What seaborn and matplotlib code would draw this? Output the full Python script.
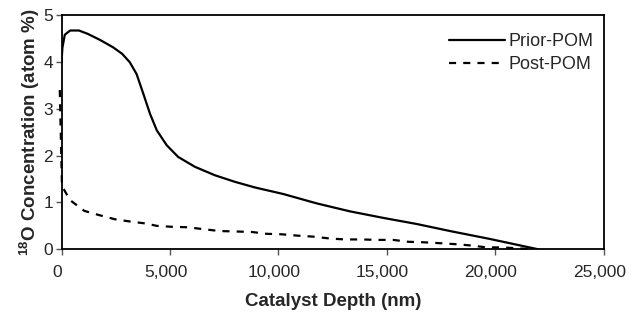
import matplotlib
matplotlib.use("Agg")
import matplotlib.pyplot as plt
import matplotlib.transforms as mtransforms
import seaborn as sns
import pandas as pd
from matplotlib.ticker import FuncFormatter

prior_depth = [0, 40, 150, 400, 800, 1200, 1770, 2380, 2800, 3150, 3460, 3770, 4080,
               4390, 4850, 5380, 6150, 7070, 7990, 8910, 10220, 11760, 13290, 14830,
               16370, 17900, 19750, 21970]
prior_conc = [4.0, 4.3, 4.58, 4.67, 4.67, 4.6, 4.47, 4.31, 4.17, 3.99, 3.74, 3.32, 2.89,
              2.54, 2.22, 1.97, 1.76, 1.58, 1.44, 1.32, 1.18, 0.98, 0.81, 0.67,
              0.54, 0.39, 0.22, 0.0]

post_depth = [-80, 20, 390, 1050, 1730, 2470, 3200, 3890, 4390, 5080, 5810, 6530, 7270,
              8000, 8760, 9460, 10150, 10910, 11600, 12370, 13060, 13830, 14530, 15290,
              15980, 16670, 17440, 18130, 18900, 19590, 20290, 21050, 21740]
post_conc = [3.4, 1.35, 1.05, 0.82, 0.73, 0.64, 0.59, 0.55, 0.5, 0.48, 0.47, 0.43, 0.39,
             0.38, 0.37, 0.33, 0.32, 0.29, 0.27, 0.23, 0.21, 0.21, 0.2, 0.2,
             0.16, 0.15, 0.13, 0.11, 0.08, 0.04, 0.04, 0.02, 0.0]

series_names = ["Prior-POM", "Post-POM"]
x_ticks = [0, 5000, 10000, 15000, 20000, 25000]
y_ticks = [0, 1, 2, 3, 4, 5]

sns.set_theme(style="ticks")
plt.rcParams["font.family"] = ["Liberation Sans", "DejaVu Sans"]
plt.rcParams["mathtext.fontset"] = "custom"
plt.rcParams["mathtext.bf"] = "Liberation Sans:bold"
plt.rcParams["mathtext.rm"] = "Liberation Sans:bold"

df = pd.concat([
    pd.DataFrame({"depth": prior_depth, "conc": prior_conc, "series": series_names[0]}),
    pd.DataFrame({"depth": post_depth, "conc": post_conc, "series": series_names[1]}),
], ignore_index=True)

fig = plt.figure(figsize=(6.35, 3.2), dpi=100)
ax = fig.add_axes([0.0969, 0.221, 0.8541, 0.732])

sns.lineplot(data=df[df.series == series_names[0]], x="depth", y="conc", ax=ax,
             color="black", lw=1.6, sort=False, estimator=None, label=series_names[0])
sns.lineplot(data=df[df.series == series_names[1]], x="depth", y="conc", ax=ax,
             color="black", lw=1.6, sort=False, estimator=None, label=series_names[1],
             dashes=False)
ax.lines[1].set_dashes((3.2, 3.2))
ax.lines[1].set_clip_on(False)

ax.set_xlim(0, 25000)
ax.set_ylim(0, 5)
ax.set_xticks(x_ticks)
ax.set_yticks(y_ticks)
ax.xaxis.set_major_formatter(FuncFormatter(lambda v, p: f"{int(v):,}"))
ax.tick_params(axis="both", direction="out", length=4, width=1, labelsize=12.5,
               color="#555555")
ax.tick_params(axis="x", pad=7)
ax.tick_params(axis="y", pad=2)
offset = mtransforms.ScaledTranslation(-0.045, 0, fig.dpi_scale_trans)
for lbl in ax.get_xticklabels():
    lbl.set_transform(lbl.get_transform() + offset)
for s in ax.spines.values():
    s.set_linewidth(1.3)
    s.set_color("black")

ax.set_xlabel("Catalyst Depth (nm)", labelpad=10, weight="bold", size=13.5)
ax.set_ylabel(r"$^{18}$O Concentration (atom %)", labelpad=1, weight="bold", size=13.5)

leg = ax.legend(loc="upper right", bbox_to_anchor=(1.0166, 1.0085), frameon=False,
                fontsize=13, handlelength=3.1, handletextpad=0.15,
                borderaxespad=0.7, labelspacing=0.35)
leg.get_lines()[1].set_dashes((3.2, 3.2))

fig.savefig("out.png", dpi=100)
